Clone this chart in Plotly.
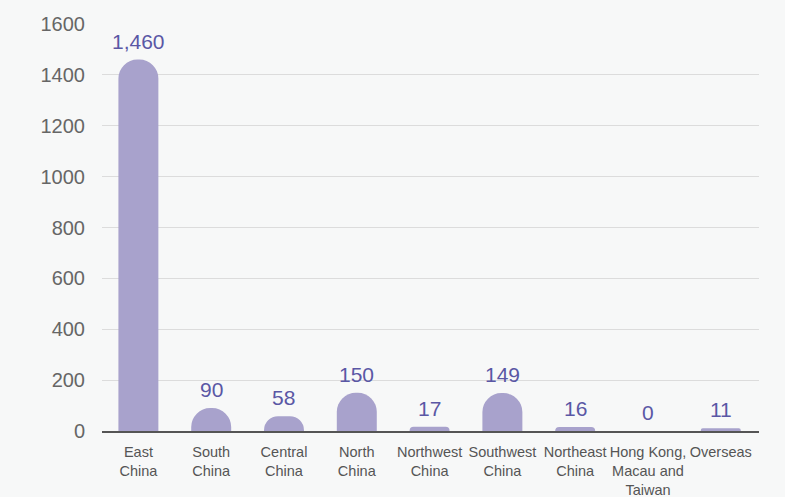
import plotly.graph_objects as go

# Regional breakdown of counts
regions = ["East<br>China", "South<br>China", "Central<br>China", "North<br>China",
           "Northwest<br>China", "Southwest<br>China", "Northeast<br>China",
           "Hong Kong,<br>Macau and<br>Taiwan", "Overseas"]
counts = [1460, 90, 58, 150, 17, 149, 16, 0, 11]
y_ticks = [0, 200, 400, 600, 800, 1000, 1200, 1400, 1600]

BAR = "#a8a2cc"
LABEL = "#5a57a5"
BG = "#f7f8f8"

x_idx = list(range(len(regions)))

fig = go.Figure()
fig.add_trace(go.Bar(
    x=x_idx,
    y=counts,
    width=0.549,
    marker=dict(color=BAR, cornerradius=20, line=dict(width=0)),
    hoverinfo="skip",
))

# value labels above each bar
for i, v in zip(x_idx, counts):
    fig.add_annotation(
        x=i, y=v, text=f"{v:,}", showarrow=False,
        yanchor="bottom", yshift=5,
        font=dict(family="Liberation Sans, Arial, sans-serif", size=21, color=LABEL),
    )

fig.update_layout(
    width=785, height=497,
    margin=dict(l=102, r=26, t=24, b=66),
    paper_bgcolor=BG, plot_bgcolor=BG,
    showlegend=False,
    font=dict(family="Liberation Sans, Arial, sans-serif"),
    xaxis=dict(
        range=[-0.5, 8.525],
        tickmode="array", tickvals=x_idx, ticktext=regions,
        tickfont=dict(size=14.5, color="#555555"),
        tickangle=0, automargin=False,
        showgrid=False, zeroline=False,
        showline=True, linecolor="#555555", linewidth=1.5,
        ticks="", ticklabelstandoff=7,
    ),
    yaxis=dict(
        range=[0, 1600], automargin=False,
        tickmode="array", tickvals=y_ticks,
        tickfont=dict(size=20, color="#666666"),
        showgrid=True, gridcolor="#dcdcdc", gridwidth=1,
        zeroline=False, showline=False, ticks="",
        ticklabelstandoff=16,
    ),
)

fig.write_html("out.html")
